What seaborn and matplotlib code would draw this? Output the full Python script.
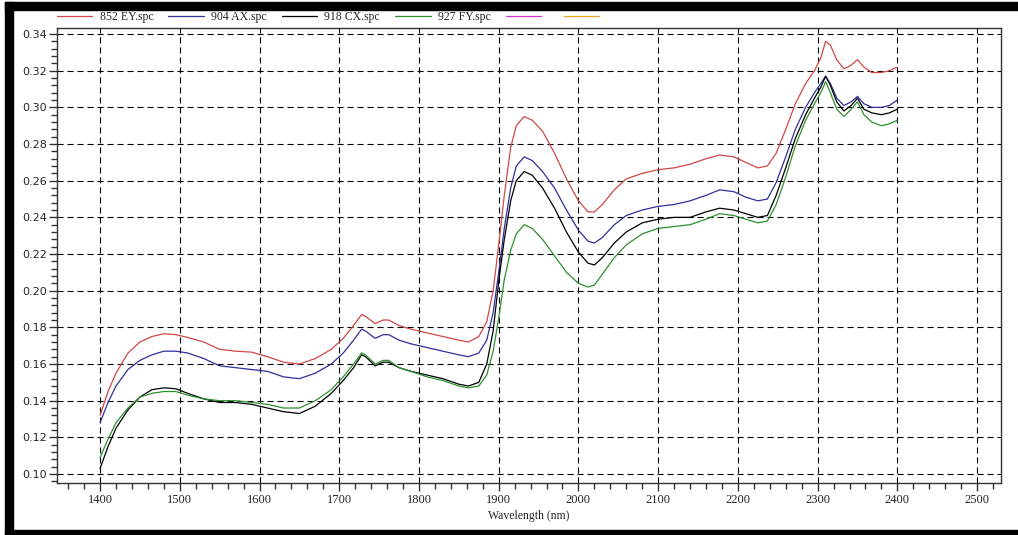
import numpy as np
import pandas as pd
import matplotlib
matplotlib.use("Agg")
import matplotlib.pyplot as plt
import seaborn as sns
from matplotlib.lines import Line2D
from matplotlib.patches import Rectangle
from matplotlib.ticker import MultipleLocator, FormatStrFormatter

wavelength = [1400, 1410, 1420, 1435, 1450, 1465, 1480, 1495, 1510, 1530, 1550, 1570, 1590,
              1610, 1630, 1650, 1670, 1690, 1705, 1718, 1728, 1733, 1745, 1755, 1762, 1775,
              1790, 1810, 1830, 1850, 1862, 1875, 1885, 1893, 1900, 1907, 1915, 1922, 1932,
              1942, 1955, 1970, 1985, 2000, 2012, 2020, 2030, 2045, 2060, 2080, 2100, 2120,
              2140, 2160, 2177, 2195, 2210, 2225, 2237, 2248, 2260, 2272, 2285, 2296, 2304,
              2310, 2316, 2324, 2333, 2342, 2350, 2358, 2368, 2380, 2390, 2400]

ey852 = [0.132, 0.145, 0.155, 0.166, 0.172, 0.175, 0.1765, 0.176, 0.1745, 0.172, 0.168, 0.167,
         0.1665, 0.164, 0.161, 0.160, 0.163, 0.168, 0.174, 0.181, 0.187, 0.186, 0.182, 0.184,
         0.184, 0.181, 0.179, 0.177, 0.175, 0.173, 0.172, 0.175, 0.183, 0.200, 0.225, 0.252,
         0.278, 0.290, 0.295, 0.293, 0.287, 0.275, 0.261, 0.249, 0.243, 0.243, 0.247, 0.255,
         0.261, 0.264, 0.266, 0.267, 0.269, 0.272, 0.274, 0.273, 0.270, 0.267, 0.268, 0.275,
         0.288, 0.302, 0.313, 0.320, 0.327, 0.336, 0.334, 0.326, 0.321, 0.323, 0.326, 0.322,
         0.319, 0.319, 0.320, 0.322]

ax904 = [0.128, 0.139, 0.148, 0.157, 0.162, 0.165, 0.167, 0.167, 0.166, 0.163, 0.159, 0.158,
         0.157, 0.156, 0.153, 0.152, 0.155, 0.160, 0.166, 0.173, 0.179, 0.178, 0.174, 0.176,
         0.176, 0.173, 0.171, 0.169, 0.167, 0.165, 0.164, 0.166, 0.173, 0.188, 0.210, 0.234,
         0.256, 0.268, 0.273, 0.271, 0.265, 0.256, 0.244, 0.233, 0.227, 0.226, 0.229, 0.236,
         0.241, 0.244, 0.246, 0.247, 0.249, 0.252, 0.255, 0.254, 0.251, 0.249, 0.250, 0.259,
         0.273, 0.288, 0.300, 0.308, 0.313, 0.317, 0.313, 0.305, 0.301, 0.303, 0.306, 0.302,
         0.300, 0.300, 0.301, 0.304]

cx918 = [0.103, 0.115, 0.125, 0.135, 0.142, 0.146, 0.147, 0.1465, 0.144, 0.141, 0.139, 0.139,
         0.138, 0.136, 0.134, 0.133, 0.137, 0.144, 0.151, 0.158, 0.165, 0.164, 0.159, 0.161,
         0.161, 0.158, 0.156, 0.154, 0.152, 0.149, 0.148, 0.150, 0.160, 0.178, 0.205, 0.228,
         0.249, 0.260, 0.265, 0.263, 0.256, 0.245, 0.232, 0.221, 0.215, 0.214, 0.218, 0.226,
         0.232, 0.237, 0.239, 0.240, 0.240, 0.243, 0.245, 0.244, 0.242, 0.240, 0.241, 0.252,
         0.267, 0.283, 0.296, 0.305, 0.311, 0.317, 0.312, 0.303, 0.298, 0.301, 0.305, 0.299,
         0.297, 0.296, 0.297, 0.299]

fy927 = [0.109, 0.119, 0.128, 0.136, 0.142, 0.144, 0.145, 0.145, 0.143, 0.141, 0.140, 0.140,
         0.139, 0.138, 0.136, 0.136, 0.140, 0.146, 0.153, 0.160, 0.166, 0.165, 0.160, 0.162,
         0.162, 0.158, 0.156, 0.153, 0.151, 0.148, 0.147, 0.148, 0.154, 0.167, 0.185, 0.206,
         0.222, 0.231, 0.236, 0.234, 0.228, 0.219, 0.210, 0.204, 0.202, 0.203, 0.209, 0.218,
         0.225, 0.231, 0.234, 0.235, 0.236, 0.239, 0.242, 0.241, 0.239, 0.237, 0.238, 0.247,
         0.262, 0.279, 0.293, 0.302, 0.308, 0.314, 0.308, 0.299, 0.295, 0.299, 0.303, 0.296,
         0.292, 0.290, 0.291, 0.293]

series_names = ["852 EY.spc", "904 AX.spc", "918 CX.spc", "927 FY.spc"]
series_colors = ["#d04848", "#30309a", "#000000", "#2f8f2f"]
extra_legend_colors = ["#cc33cc", "#e8a020"]

frames = []
for name, vals in zip(series_names, [ey852, ax904, cx918, fy927]):
    frames.append(pd.DataFrame({"Wavelength": wavelength, "Absorbance": vals, "Sample": name}))
df = pd.concat(frames, ignore_index=True)

sns.set_style("white")
fig = plt.figure(figsize=(10.18, 5.35), dpi=100)
ax = fig.add_axes([0.056, 0.0972, 0.9273, 0.8505])

sns.lineplot(data=df, x="Wavelength", y="Absorbance", hue="Sample",
             hue_order=series_names, palette=dict(zip(series_names, series_colors)),
             linewidth=0.9, legend=False, ax=ax, sort=False, estimator=None)

ax.set_xlim(1346, 2530)
ax.set_ylim(0.0951, 0.3433)
ax.xaxis.set_major_locator(MultipleLocator(100))
ax.xaxis.set_minor_locator(MultipleLocator(20))
ax.yaxis.set_major_locator(MultipleLocator(0.02))
ax.yaxis.set_minor_locator(MultipleLocator(0.004))
ax.yaxis.set_major_formatter(FormatStrFormatter("%.2f"))

ax.grid(True, which="major", color="black", linestyle=(0, (5.5, 3.5)), linewidth=0.8)
for s in ax.spines.values():
    s.set_color("#333333")
    s.set_linewidth(1.0)

ax.tick_params(axis="both", which="major", direction="out", length=6, width=1,
               color="#333333", bottom=True, left=True)
ax.tick_params(axis="both", which="minor", direction="out", length=4, width=1,
               color="#333333", bottom=True, left=True)
ax.tick_params(axis="y", labelsize=8, pad=1)
ax.tick_params(axis="x", labelsize=9, pad=2)
for lbl in ax.get_yticklabels():
    lbl.set_family("DejaVu Sans")
for lbl in ax.get_xticklabels():
    lbl.set_family("Liberation Serif")

ax.set_xlabel("Wavelength (nm)", family="Liberation Serif", fontsize=8.5, labelpad=3)
ax.set_ylabel("Absorbance", family="Liberation Serif", fontsize=8.5, labelpad=3)

handles = list(ax.get_lines()[:4]) + [Line2D([], [], color=c, linewidth=0.9) for c in extra_legend_colors]
labels = series_names + ["", ""]
leg = ax.legend(handles, labels, loc="lower left", bbox_to_anchor=(0.0, 1.01),
                ncol=6, frameon=False, prop={"family": "Liberation Serif", "size": 8.5},
                handlelength=3.0, handletextpad=0.6, columnspacing=1.3, borderaxespad=0.0,
                borderpad=0.0)

# black frame bands around the picture
W, H = 1018, 535
for (x0, y0, w, h) in [(5, 2, 1013, 8), (5, 2, 8, 533), (5, 530, 1013, 5)]:
    fig.patches.append(Rectangle((x0 / W, 1 - (y0 + h) / H), w / W, h / H,
                                 transform=fig.transFigure, color="black", zorder=10))

fig.savefig("out.png", dpi=100)
